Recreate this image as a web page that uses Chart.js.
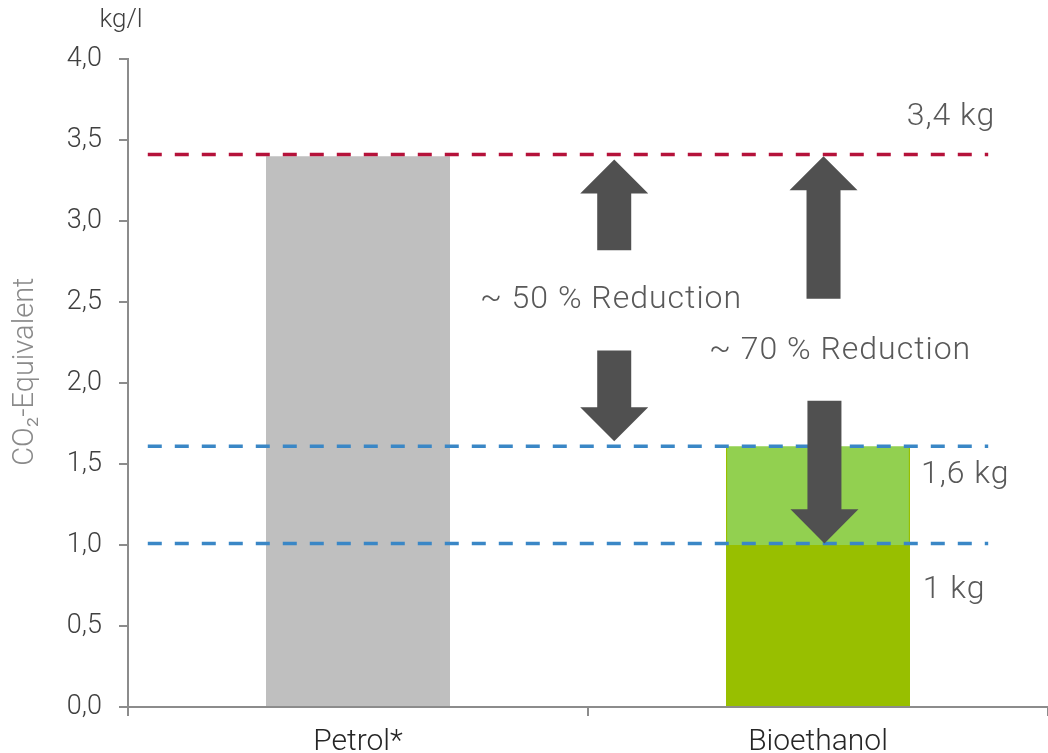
<!DOCTYPE html>
<html>
<head>
<meta charset="utf-8">
<script src="https://cdn.jsdelivr.net/npm/chart.js@4/dist/chart.umd.min.js"></script>
<style>
  html,body{margin:0;padding:0;background:#fff;}
  #wrap{width:1048px;height:753px;}
</style>
</head>
<body>
<div id="wrap"><canvas id="co2"></canvas></div>
<script>
// data
const categories = ['Petrol*', 'Bioethanol'];
const barValues = [3.4, 1.6];          // full bar heights
const reductionBand = [null, [1.0, 1.61]];  // light green part of bioethanol
const yTicks = [0, 0.5, 1, 1.5, 2, 2.5, 3, 3.5, 4];
const refLevels = [3.41, 1.61, 1.01];
const refColors = ['#b5123a', '#3a87c6', '#3a87c6'];
// arrows: [x position in category index, tail value, head base value, tip value]
const arrows = [
  [0.557, 2.82, 3.17, 3.38],
  [0.557, 2.20, 1.85, 1.64],
  [1.012, 2.52, 3.19, 3.40],
  [1.014, 1.89, 1.22, 1.01]
];
const notes = [
  ['3,4 kg', 1.289, 3.64],
  ['1,6 kg', 1.32, 1.43],
  ['1 kg', 1.296, 0.72],
  ['~ 50 % Reduction', 0.55, 2.51],
  ['~ 70 % Reduction', 1.048, 2.20]
];

const FONT = "Roboto, 'Open Sans', sans-serif";

const extras = {
  id: 'extras',
  afterDatasetsDraw(chart){
    const ctx = chart.ctx, x = chart.scales.x, y = chart.scales.y;
    ctx.save();
    // dashed reference lines
    ctx.lineWidth = 3.5;
    ctx.setLineDash([14, 13]);
    refLevels.forEach((v, i) => {
      ctx.strokeStyle = refColors[i];
      ctx.beginPath();
      ctx.moveTo(x.getPixelForValue(-0.457), y.getPixelForValue(v));
      ctx.lineTo(x.getPixelForValue(1.37), y.getPixelForValue(v));
      ctx.stroke();
    });
    ctx.setLineDash([]);
    // block arrows
    ctx.fillStyle = '#505050';
    arrows.forEach(a => {
      const cx = x.getPixelForValue(a[0]);
      const t = y.getPixelForValue(a[1]), b = y.getPixelForValue(a[2]), p = y.getPixelForValue(a[3]);
      ctx.beginPath();
      ctx.moveTo(cx - 17, t);
      ctx.lineTo(cx - 17, b);
      ctx.lineTo(cx - 34, b);
      ctx.lineTo(cx, p);
      ctx.lineTo(cx + 34, b);
      ctx.lineTo(cx + 17, b);
      ctx.lineTo(cx + 17, t);
      ctx.closePath();
      ctx.fill();
    });
    // annotations
    ctx.fillStyle = '#595959';
    ctx.font = '300 32px ' + FONT;
    ctx.letterSpacing = '1px';
    ctx.textAlign = 'center';
    ctx.textBaseline = 'middle';
    notes.forEach(n => {
      ctx.fillText(n[0], x.getPixelForValue(n[1]), y.getPixelForValue(n[2]));
    });
    // unit and axis title
    ctx.fillStyle = '#404040';
    ctx.font = '300 26px ' + FONT;
    ctx.letterSpacing = '0px';
    ctx.fillText('kg/l', 121, 20);
    ctx.translate(26, y.getPixelForValue(2.07));
    ctx.rotate(-Math.PI / 2);
    ctx.fillStyle = '#8a8a8a';
    ctx.font = '300 29px ' + FONT;
    ctx.fillText('CO\u2082-Equivalent', 0, 0);
    ctx.restore();
  }
};

new Chart(document.getElementById('co2'), {
  type: 'bar',
  data: {
    labels: categories,
    datasets: [
      {
        data: barValues,
        backgroundColor: ['#bfbfbf', '#98bf00'],
        barPercentage: 0.4,
        categoryPercentage: 1,
        grouped: false,
        order: 2
      },
      {
        data: reductionBand,
        backgroundColor: '#92d050',
        barPercentage: 0.395,
        categoryPercentage: 1,
        grouped: false,
        order: 1
      }
    ]
  },
  options: {
    responsive: true,
    maintainAspectRatio: false,
    animation: false,
    layout: { padding: { top: 59, right: 0, left: 0, bottom: 0 } },
    plugins: { legend: { display: false }, tooltip: { enabled: false } },
    scales: {
      x: {
        offset: true,
        grid: { offset: true, drawOnChartArea: false, drawTicks: true, tickLength: 9, color: '#8c8c8c', lineWidth: 2 },
        border: { color: '#8c8c8c', width: 2 },
        ticks: { color: '#262626', font: { family: FONT, size: 30, weight: 300 }, padding: 8 },
        afterFit: s => { s.height = 46; }
      },
      y: {
        min: 0, max: 4,
        afterBuildTicks: s => { s.ticks = yTicks.map(v => ({ value: v })); },
        grid: { drawOnChartArea: false, drawTicks: true, tickLength: 9, color: '#8c8c8c', lineWidth: 2 },
        border: { color: '#8c8c8c', width: 2 },
        ticks: {
          color: '#404040',
          font: { family: FONT, size: 27, weight: 300 },
          padding: 17,
          callback: v => v.toFixed(1).replace('.', ',')
        },
        afterFit: s => { s.width = 128; }
      }
    }
  },
  plugins: [extras]
});
</script>
</body>
</html>
